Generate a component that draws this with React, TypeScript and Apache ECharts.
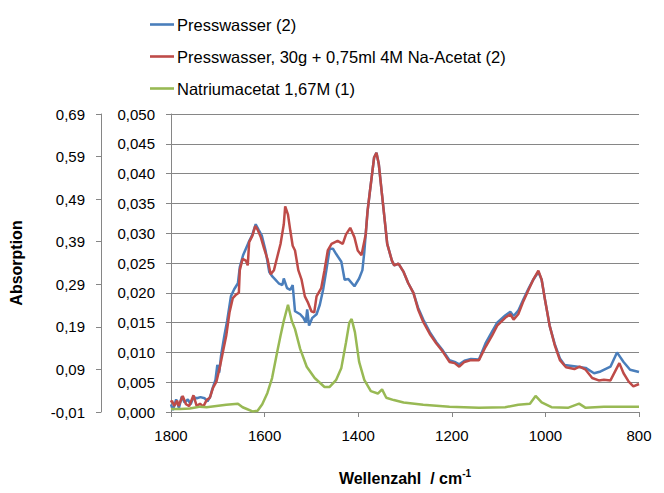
import React, { useEffect, useRef } from "react";
import * as echarts from "echarts";

const seriesNames = [
  "Presswasser (2)",
  "Presswasser, 30g + 0,75ml 4M Na-Acetat (2)",
  "Natriumacetat 1,67M (1)",
];

const xTicks = [1800, 1600, 1400, 1200, 1000, 800];

// Wellenzahl (cm-1), Absorption
const blueWn = [1800, 1796, 1789, 1783, 1777, 1771, 1764, 1758, 1752, 1745, 1737, 1728, 1722, 1716, 1712, 1705, 1701, 1697, 1693, 1686, 1680, 1672, 1665, 1657, 1653, 1646, 1640, 1634, 1627, 1619, 1613, 1606, 1598, 1590, 1583, 1577, 1570, 1562, 1559, 1552, 1545, 1540, 1535, 1524, 1517, 1512, 1509, 1505, 1498, 1489, 1482, 1475, 1468, 1461, 1454, 1447, 1436, 1429, 1421, 1408, 1398, 1391, 1387, 1380, 1375, 1366, 1361, 1356, 1349, 1338, 1328, 1323, 1314, 1303, 1293, 1282, 1272, 1261, 1247, 1233, 1219, 1205, 1194, 1184, 1173, 1159, 1142, 1128, 1114, 1103, 1086, 1075, 1068, 1058, 1047, 1036, 1026, 1015, 1008, 1001, 991, 980, 969, 959, 931, 914, 896, 882, 861, 847, 833, 819, 800];
const blueVal = [0.0013, 0.0003, 0.0021, 0.0007, 0.0026, 0.0016, 0.0021, 0.0013, 0.0025, 0.0023, 0.0025, 0.0023, 0.0018, 0.0026, 0.0038, 0.0054, 0.0079, 0.0066, 0.0095, 0.0128, 0.0153, 0.0194, 0.0206, 0.0216, 0.0243, 0.0263, 0.0274, 0.0285, 0.0296, 0.0315, 0.0306, 0.0296, 0.0271, 0.0235, 0.0227, 0.0222, 0.0216, 0.0213, 0.0224, 0.0208, 0.0205, 0.0213, 0.0169, 0.0164, 0.0158, 0.0150, 0.0172, 0.0145, 0.0158, 0.0164, 0.0180, 0.0205, 0.0238, 0.0274, 0.0274, 0.0265, 0.0252, 0.0222, 0.0223, 0.0211, 0.0224, 0.0238, 0.0268, 0.0337, 0.0370, 0.0427, 0.0435, 0.0416, 0.0364, 0.0282, 0.0254, 0.0246, 0.0249, 0.0235, 0.0216, 0.0200, 0.0175, 0.0155, 0.0134, 0.0117, 0.0103, 0.0087, 0.0084, 0.0080, 0.0086, 0.0089, 0.0088, 0.0115, 0.0135, 0.0150, 0.0162, 0.0168, 0.0161, 0.0170, 0.0189, 0.0207, 0.0222, 0.0235, 0.0222, 0.0189, 0.0145, 0.0114, 0.0090, 0.0079, 0.0076, 0.0074, 0.0065, 0.0068, 0.0076, 0.0100, 0.0084, 0.0071, 0.0067];

const redWn = [1800, 1798, 1793, 1787, 1784, 1775, 1768, 1761, 1752, 1745, 1738, 1731, 1724, 1717, 1710, 1703, 1696, 1689, 1682, 1675, 1668, 1661, 1655, 1653, 1647, 1640, 1636, 1633, 1626, 1620, 1615, 1608, 1601, 1594, 1587, 1580, 1573, 1566, 1559, 1556, 1550, 1545, 1540, 1535, 1528, 1521, 1514, 1507, 1500, 1494, 1489, 1479, 1472, 1465, 1457, 1444, 1433, 1426, 1417, 1408, 1401, 1393, 1384, 1380, 1375, 1366, 1361, 1356, 1349, 1338, 1328, 1323, 1314, 1303, 1293, 1282, 1272, 1261, 1247, 1233, 1219, 1205, 1194, 1184, 1173, 1159, 1142, 1128, 1114, 1103, 1086, 1075, 1068, 1058, 1047, 1036, 1026, 1015, 1008, 1001, 991, 980, 969, 956, 938, 927, 914, 900, 886, 875, 861, 842, 833, 822, 812, 800];
const redVal = [0.0016, 0.0019, 0.0010, 0.0019, 0.0010, 0.0027, 0.0013, 0.0010, 0.0028, 0.0010, 0.0014, 0.0009, 0.0020, 0.0024, 0.0041, 0.0051, 0.0074, 0.0101, 0.0128, 0.0167, 0.0191, 0.0197, 0.0200, 0.0238, 0.0257, 0.0254, 0.0246, 0.0285, 0.0296, 0.0312, 0.0306, 0.0293, 0.0274, 0.0257, 0.0231, 0.0238, 0.0260, 0.0282, 0.0315, 0.0345, 0.0331, 0.0304, 0.0279, 0.0271, 0.0238, 0.0222, 0.0194, 0.0183, 0.0169, 0.0167, 0.0194, 0.0208, 0.0238, 0.0271, 0.0282, 0.0287, 0.0282, 0.0298, 0.0309, 0.0293, 0.0271, 0.0263, 0.0298, 0.0337, 0.0370, 0.0427, 0.0435, 0.0416, 0.0364, 0.0282, 0.0254, 0.0246, 0.0249, 0.0235, 0.0216, 0.0200, 0.0172, 0.0151, 0.0131, 0.0115, 0.0101, 0.0084, 0.0082, 0.0076, 0.0084, 0.0087, 0.0087, 0.0109, 0.0128, 0.0145, 0.0158, 0.0164, 0.0155, 0.0164, 0.0186, 0.0205, 0.0222, 0.0237, 0.0222, 0.0189, 0.0145, 0.0112, 0.0087, 0.0075, 0.0072, 0.0076, 0.0071, 0.0057, 0.0053, 0.0054, 0.0053, 0.0082, 0.0065, 0.0051, 0.0043, 0.0047];

const greenWn = [1800, 1780, 1760, 1745, 1738, 1724, 1703, 1682, 1657, 1647, 1638, 1626, 1615, 1605, 1594, 1584, 1573, 1566, 1559, 1550, 1542, 1535, 1524, 1510, 1493, 1472, 1461, 1447, 1436, 1426, 1419, 1414, 1407, 1398, 1387, 1373, 1358, 1349, 1340, 1324, 1303, 1261, 1205, 1142, 1086, 1058, 1033, 1021, 1008, 987, 952, 928, 914, 875, 819, 800];
const greenVal = [0.0005, 0.0005, 0.0006, 0.0008, 0.0009, 0.0008, 0.0010, 0.0012, 0.0014, 0.0008, 0.0005, 0.0001, 0.0002, 0.0013, 0.0032, 0.0057, 0.0101, 0.0128, 0.0153, 0.0180, 0.0153, 0.0139, 0.0106, 0.0076, 0.0057, 0.0042, 0.0042, 0.0054, 0.0074, 0.0117, 0.0150, 0.0156, 0.0134, 0.0084, 0.0054, 0.0035, 0.0031, 0.0038, 0.0024, 0.0020, 0.0016, 0.0012, 0.0009, 0.0007, 0.0008, 0.0012, 0.0014, 0.0027, 0.0016, 0.0008, 0.0007, 0.0014, 0.0007, 0.0009, 0.0009, 0.0009];

const colors = ["#4A7EBB", "#BE4B48", "#98B954"];

const pair = (xs: number[], ys: number[]) => xs.map((x, i) => [x, ys[i]]);

const FONT = "'Liberation Sans', Arial, sans-serif";
const GRAY = "#868686";

export default function App() {
  const ref = useRef<HTMLDivElement>(null);
  useEffect(() => {
    document.body.style.margin = "0";
    if (!ref.current) return;
    const chart = echarts.init(ref.current, undefined, { renderer: "svg" });
    const mkSeries = (name: string, data: number[][], color: string) => ({
      name,
      type: "line",
      data,
      showSymbol: false,
      symbol: "none",
      lineStyle: { color, width: 2.5 },
      itemStyle: { color },
      xAxisIndex: 0,
      yAxisIndex: 0,
    });
    chart.setOption({
      animation: false,
      textStyle: { fontFamily: FONT },
      color: colors,
      legend: {
        orient: "vertical",
        left: 150,
        top: 16,
        padding: 0,
        itemWidth: 24,
        itemHeight: 14,
        itemGap: 15,
        icon: "path://M0,6 L24,6 L24,8.6 L0,8.6 Z",
        textStyle: { fontFamily: FONT, fontSize: 16.5, color: "#000", padding: [0, 0, 0, -2] },
        data: seriesNames,
      },
      grid: { left: 164, right: 25, top: 114, bottom: 75, containLabel: false },
      xAxis: {
        type: "value",
        inverse: true,
        min: xTicks[xTicks.length - 1],
        max: xTicks[0],
        interval: 200,
        axisLine: { show: true, lineStyle: { color: GRAY, width: 1 } },
        axisTick: { show: true, inside: false, length: 5, lineStyle: { color: GRAY } },
        splitLine: { show: false },
        axisLabel: {
          color: "#000",
          fontSize: 15,
          fontFamily: FONT,
          margin: 16,
          formatter: (v: number) => String(v),
        },
        name: "Wellenzahl  / cm{sup|-1}",
        nameLocation: "middle",
        nameGap: 56,
        nameTextStyle: {
          color: "#000",
          fontSize: 16,
          fontWeight: "bold",
          fontFamily: FONT,
          lineHeight: 20,
          rich: {
            sup: { fontSize: 10, fontWeight: "bold", verticalAlign: "top", lineHeight: 12, color: "#000", fontFamily: FONT },
          },
        },
      },
      yAxis: [
        {
          type: "value",
          position: "left",
          min: 0,
          max: 0.05,
          interval: 0.005,
          axisLine: { show: true, lineStyle: { color: GRAY, width: 1 } },
          axisTick: { show: true, inside: false, length: 5, lineStyle: { color: GRAY } },
          splitLine: { show: true, lineStyle: { color: GRAY, width: 1 } },
          axisLabel: {
            color: "#000",
            fontSize: 15,
            fontFamily: FONT,
            margin: 16,
            formatter: (v: number) => v.toFixed(3).replace(".", ","),
          },
        },
        {
          type: "value",
          position: "left",
          offset: 70,
          min: 0,
          max: 0.7,
          interval: 0.1,
          axisLine: { show: true, onZero: false, lineStyle: { color: GRAY, width: 1 } },
          axisTick: { show: true, inside: false, length: 5, lineStyle: { color: GRAY } },
          splitLine: { show: false },
          axisLabel: {
            color: "#000",
            fontSize: 15,
            fontFamily: FONT,
            margin: 16,
            formatter: (v: number) => (v - 0.01).toFixed(2).replace(".", ","),
          },
          name: "Absorption",
          nameLocation: "middle",
          nameRotate: 90,
          nameGap: 77,
          nameTextStyle: { color: "#000", fontSize: 16, fontWeight: "bold", fontFamily: FONT },
        },
      ],
      series: [
        mkSeries(seriesNames[0], pair(blueWn, blueVal), colors[0]),
        mkSeries(seriesNames[1], pair(redWn, redVal), colors[1]),
        mkSeries(seriesNames[2], pair(greenWn, greenVal), colors[2]),
      ],
    });
    return () => chart.dispose();
  }, []);
  return <div ref={ref} style={{ width: 664, height: 493 }} />;
}
